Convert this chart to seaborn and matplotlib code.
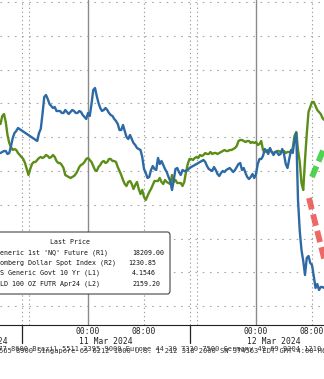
import numpy as np
import pandas as pd
import matplotlib
matplotlib.use("Agg")
import matplotlib.pyplot as plt
import matplotlib.transforms as mtransforms
from matplotlib.patches import FancyBboxPatch
from matplotlib.lines import Line2D
import seaborn as sns

nan = np.nan
# ---------------- data (15-minute samples, hours relative to 11 Mar 00:00 on the session axis)
start_hour = -12.5
step_hours = 0.25

gold = [2186.2, 2186.4, 2186.6, 2186.6, 2186.0, 2186.2, 2187.6, 2189.2, 2190.2, 2190.6,
        2191.2, nan, nan, nan, nan, nan, nan, nan, nan, nan,
        nan, 2188.6, 2190.2, 2191.0, 2194.0, 2197.4, 2197.8, 2197.0, 2196.0, 2195.6,
        2195.2, 2195.4, 2194.6, 2194.6, 2194.6, 2194.2, 2194.2, 2194.8, 2194.4, 2194.0,
        2194.4, 2194.8, 2194.6, 2194.2, 2194.2, 2194.6, 2194.4, 2193.8, 2193.4, 2193.0,
        2194.2, 2193.6, 2196.0, 2198.8, 2199.2, 2197.6, 2196.2, 2195.2, 2194.6, 2194.8,
        2195.2, 2194.8, 2194.2, 2193.8, 2193.6, 2193.0, 2192.6, 2192.0, 2190.8, 2190.8,
        2191.8, 2190.6, 2189.4, 2189.0, 2189.8, 2189.0, 2188.2, 2187.8, 2187.2, 2187.0,
        2186.8, 2185.4, 2183.0, 2182.2, 2181.2, 2181.4, 2182.8, 2183.6, 2183.0, 2182.8,
        2185.2, 2184.0, 2184.6, 2183.8, 2183.0, 2182.4, 2181.4, 2180.6, 2178.8, 2180.8,
        2183.0, 2183.2, 2182.4, 2181.8, 2182.8, 2182.6, 2182.6, 2182.8, 2183.2, 2183.4,
        2183.6, 2183.8, 2184.0, 2184.2, 2184.4, 2184.6, 2184.8, 2184.4, 2183.6, 2183.0,
        2182.8, 2182.6, 2183.4, 2182.8, 2182.0, 2181.6, 2182.2, 2182.6, 2182.4, 2182.8,
        2183.0, 2183.2, 2182.8, 2182.4, 2182.8, 2183.4, 2184.0, 2184.2, 2182.8, 2183.2,
        2182.2, 2181.4, 2181.0, 2181.4, 2182.0, 2181.2, 2182.0, 2184.0, 2185.0, 2185.0,
        2185.6, 2187.0, 2186.6, 2186.0, 2187.2, 2186.4, 2185.8, 2186.4, 2186.4, 2185.8,
        2186.0, 2187.0, 2186.0, 2184.0, 2183.2, 2185.0, 2186.8, 2186.2, 2188.8, 2190.2,
        2176.8, 2170.6, 2166.8, 2164.6, 2161.8, 2165.2, 2165.6, 2164.2, 2163.8, 2161.6,
        2159.2, 2160.0, 2158.8, 2159.4, 2159.4, 2159.2]

ust10y = [4.1506, 4.1586, 4.1606, 4.1526, 4.1396, 4.1316, 4.1276, 4.1246, 4.1256, 4.1246,
          4.1216, 4.1196, 4.1176, 4.1156, 4.1116, 4.1056, 4.0996, 4.1056, 4.1106, 4.1126,
          4.1126, 4.1146, 4.1166, 4.1176, 4.1166, 4.1176, 4.1196, 4.1186, 4.1166, 4.1176,
          4.1196, 4.1176, 4.1136, 4.1116, 4.1116, 4.1096, 4.1066, 4.0996, 4.0986, 4.0976,
          4.0966, 4.0976, 4.0986, 4.1006, 4.1036, 4.1076, 4.1096, 4.1106, 4.1126, 4.1156,
          4.1166, 4.1146, 4.1126, 4.1086, 4.1046, 4.1036, 4.1076, 4.1096, 4.1126, 4.1136,
          4.1116, 4.1126, 4.1156, 4.1156, 4.1136, 4.1136, 4.1126, 4.1076, 4.1036, 4.0996,
          4.0946, 4.0906, 4.0886, 4.0926, 4.0936, 4.0906, 4.0856, 4.0896, 4.0926, 4.0856,
          4.0806, 4.0846, 4.0776, 4.0746, 4.0786, 4.0826, 4.0856, 4.0896, 4.0936, 4.0936,
          4.0936, 4.0966, 4.0926, 4.0906, 4.0946, 4.0926, 4.0916, 4.0906, 4.0996, 4.0926,
          4.0946, 4.0916, 4.0916, 4.0916, 4.0886, 4.0926, 4.1026, 4.1106, 4.1156, 4.1156,
          4.1146, 4.1166, 4.1176, 4.1166, 4.1196, 4.1186, 4.1196, 4.1216, 4.1206, 4.1206,
          4.1226, 4.1206, 4.1216, 4.1216, 4.1206, 4.1216, 4.1226, 4.1236, 4.1246, 4.1236,
          4.1236, 4.1246, 4.1246, 4.1256, 4.1266, 4.1286, 4.1336, 4.1346, 4.1346, 4.1336,
          4.1326, 4.1336, 4.1336, 4.1316, 4.1326, 4.1316, 4.1326, 4.1296, 4.1306, 4.1336,
          4.1246, 4.1226, 4.1236, 4.1246, 4.1246, 4.1226, 4.1216, 4.1226, 4.1236, 4.1236,
          4.1226, 4.1236, 4.1236, 4.1216, 4.1226, 4.1226, 4.1226, 4.1266, 4.1386, 4.1426,
          4.1246, 4.1126, 4.0916, 4.0846, 4.1146, 4.1406, 4.1626, 4.1676, 4.1726, 4.1726,
          4.1686, 4.1646, 4.1626, 4.1606, 4.1566, 4.1546]

major_tick_hours = [0, 8, 24, 32]
major_tick_labels = ["00:00", "08:00", "00:00", "08:00"]
minor_tick_hours = [-12, -8, -4, 4, 12, 16, 20, 28]
day_line_hours = [0, 24]
dotted_line_hours = [-9.5, -8.5, 8, 14.5, 15.5, 32]
session_sep_hours = [-9.5, 14.5]
date_labels = ["08 Mar 2024", "11 Mar 2024", "12 Mar 2024"]
date_label_hours = [-11.43, 2.5, 26.5]

legend_title = "Last Price"
legend_names = ["Generic 1st 'NQ' Future (R1)", "Bloomberg Dollar Spot Index (R2)",
                "US Generic Govt 10 Yr (L1)", "GOLD 100 OZ FUTR Apr24 (L2)"]
legend_values = ["18209.00", "1230.85", "4.1546", "2159.20"]

green_arrow_hours = [32.0, 34.57]
green_arrow_gold = [2181.4, 2190.0]
red_arrow_hours = [31.57, 34.57]
red_arrow_gold = [2177.2, 2160.4]

footer1 = ("Australia 61 2 9777 8600 Brazil 5511 2395 9000 Europe 44 20 7330 7500 "
           "Germany 49 69 9204 1210 Hong Kong 852 2977 6000")
footer2 = ("Japan 81 3 4565 8900 Singapore 65 6212 1000 U.S. 1 212 318 2000 "
           "SN 374563 EDT GMT-4:00 H666-2735-0 12-Mar-2024 09:05:56")

# ---------------- styling
W, H = 324, 379
BLUE = "#2d6aa5"
GREEN = "#5b8d17"
MONO = ["DejaVu Sans Mono"]

sns.set_style("white")
plt.rcParams["font.family"] = MONO

hours = start_hour + step_hours * np.arange(len(gold))
df = pd.DataFrame({"hours": hours, "gold": gold, "ust10y": ust10y})

fig = plt.figure(figsize=(W / 100, H / 100), dpi=100)
ax_bottom_px = 325
ax = fig.add_axes([0, 1 - ax_bottom_px / H, 1, ax_bottom_px / H])
ax2 = ax.twinx()

x_left = (0 - 88) / 7
x_right = (324 - 88) / 7

# yield (green) on ax, gold (blue) on ax2
sns.lineplot(data=df.dropna(subset=["ust10y"]), x="hours", y="ust10y", ax=ax,
             color=GREEN, lw=1.7, zorder=3)
sns.lineplot(data=df.dropna(subset=["gold"]), x="hours", y="gold", ax=ax2,
             color=BLUE, lw=1.7, zorder=3)

ax.set_xlim(x_left, x_right)
ax.set_ylim(4.2746 - 0.325, 4.2746)
ax2.set_ylim(2216.8 - 65.0, 2216.8)

# horizontal grid
ax.set_yticks([4.2726 - 0.0338 * k for k in range(10)])
ax.yaxis.grid(True, color="#a8a8a8", lw=0.8, ls=(0, (1.5, 5)))
ax.tick_params(axis="y", left=False, labelleft=False)
ax2.tick_params(axis="y", right=False, labelright=False)
ax.set_ylabel("")
ax2.set_ylabel("")
ax.set_xlabel("")
ax2.set_xlabel("")

for h in day_line_hours:
    ax.axvline(h, color="#8a8a8a", lw=1.0, zorder=1)
for h in dotted_line_hours:
    ax.axvline(h, color="#a0a0a0", lw=0.8, ls=(0, (1.2, 2.5)), zorder=1)

# x axis
ax.set_xticks(major_tick_hours)
ax.set_xticklabels(major_tick_labels, fontsize=5.8, color="#222222", family=MONO)
ax.set_xticks(minor_tick_hours, minor=True)
ax.tick_params(axis="x", which="major", length=0, pad=1.6)
ax.tick_params(axis="x", which="minor", length=3, width=0.8, color="#222222", direction="out")
ax2.tick_params(axis="x", which="both", bottom=False, labelbottom=False)

for a in (ax, ax2):
    for s in ("top", "left", "right"):
        a.spines[s].set_visible(False)
ax2.spines["bottom"].set_visible(False)
ax.spines["bottom"].set_color("#222222")
ax.spines["bottom"].set_linewidth(0.8)

trans = mtransforms.blended_transform_factory(ax.transData, ax.transAxes)
for h in session_sep_hours:
    ax.add_line(Line2D([h, h], [0, -18 / ax_bottom_px], transform=trans,
                       color="#222222", lw=0.9, clip_on=False))
for lbl, h, i in zip(date_labels, date_label_hours, range(3)):
    ax.text(h, -16 / ax_bottom_px, lbl, transform=trans, fontsize=5.8,
            color="#222222", ha="right" if i == 0 else "center", va="center", family=MONO)

# annotation arrows (dashed)
ax2.plot(green_arrow_hours, green_arrow_gold, color="#3fcc3f", lw=4.2, alpha=0.9,
         ls=(0, (2.0, 0.9)), solid_capstyle="butt", dash_capstyle="butt", zorder=6, clip_on=False)
ax2.plot(red_arrow_hours, red_arrow_gold, color="#ec4f4a", lw=4.2, alpha=0.85,
         ls=(0, (2.0, 0.9)), solid_capstyle="butt", dash_capstyle="butt", zorder=6, clip_on=False)

# legend box
def fx(px):
    return px / W

def fy(py):
    return 1 - py / H

box = FancyBboxPatch((fx(-20), fy(294)), fx(190), (294 - 232) / H,
                     boxstyle="round,pad=0,rounding_size=0.008",
                     transform=fig.transFigure, facecolor="white",
                     edgecolor="#444444", lw=0.8, zorder=5)
fig.add_artist(box)
fig.text(fx(70), fy(242), legend_title, fontsize=4.8, ha="center", va="center",
         color="#111111", family=MONO, zorder=6)
name_x = [-4, -12, -4, -8]
value_x = [132, 128, 132, 132]
row_y = [253, 263, 273, 284]
for nm, val, nx, vx, ry in zip(legend_names, legend_values, name_x, value_x, row_y):
    fig.text(fx(nx), fy(ry), nm, fontsize=4.8, ha="left", va="center",
             color="#111111", family=MONO, zorder=6)
    fig.text(fx(vx), fy(ry), val, fontsize=4.8, ha="left", va="center",
             color="#111111", family=MONO, zorder=6)

# footer (two overlapping rows, as in the source screenshot)
fig.text(fx(-74.5), fy(348.5), footer1, fontsize=5.0, ha="left", va="center",
         color="#333333", family=MONO)
fig.text(fx(-52), fy(351.5), footer2, fontsize=5.0, ha="left", va="center",
         color="#333333", family=MONO)

fig.savefig("out.png", dpi=100, facecolor="white")
